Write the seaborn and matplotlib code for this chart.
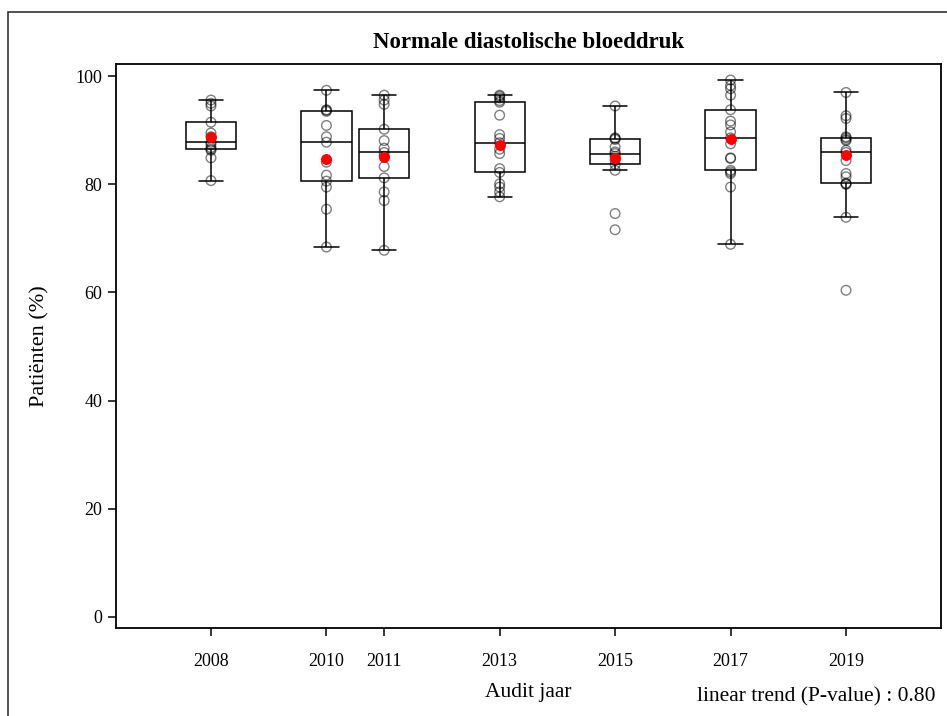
import numpy as np
import pandas as pd
import matplotlib
matplotlib.use("Agg")
import matplotlib.pyplot as plt
import seaborn as sns
from matplotlib.patches import Rectangle

# Audit years and per-practice percentages of patients with normal diastolic pressure
years = [2008, 2010, 2011, 2013, 2015, 2017, 2019]

pct_2008 = [80.7, 84.9, 86.3, 86.5, 86.8, 87.4, 87.8, 88.8, 89.5, 91.5, 94.5, 95.0, 95.6]
pct_2010 = [68.4, 75.4, 79.5, 80.6, 81.7, 84.1, 87.8, 88.8, 90.9, 93.5, 93.7, 93.8, 97.4]
pct_2011 = [67.8, 77.0, 78.6, 81.2, 83.3, 85.2, 85.9, 86.7, 88.1, 90.2, 94.8, 95.6, 96.5]
pct_2013 = [77.7, 78.6, 79.5, 80.1, 82.2, 82.9, 85.7, 86.5, 87.7, 88.5, 89.2, 92.8,
            95.2, 95.5, 96.0, 96.3, 96.5]
pct_2015 = [71.6, 74.6, 82.6, 83.7, 84.5, 85.2, 85.7, 86.0, 86.9, 88.3, 88.5, 88.6, 94.5]
pct_2017 = [68.9, 79.5, 82.0, 82.3, 82.6, 84.8, 84.9, 87.5, 88.6, 89.7, 91.0, 91.7,
            93.8, 96.5, 97.7, 98.3, 99.3]
pct_2019 = [60.4, 73.9, 80.0, 80.1, 80.2, 81.4, 82.0, 84.4, 85.9, 86.3, 88.1, 88.3,
            88.6, 88.8, 92.2, 92.7, 97.0]

# Overall (pooled) percentage per audit year
overall_pct = [88.8, 84.6, 85.1, 87.2, 84.9, 88.3, 85.4]

y_ticks = [0, 20, 40, 60, 80, 100]
title = "Normale diastolische bloeddruk"
x_label = "Audit jaar"
y_label = "Patiënten (%)"
trend_note = "linear trend (P-value) : 0.80"

per_year = [pct_2008, pct_2010, pct_2011, pct_2013, pct_2015, pct_2017, pct_2019]
df = pd.DataFrame(
    [(yr, v) for yr, vals in zip(years, per_year) for v in vals],
    columns=["jaar", "pct"],
)
means = pd.DataFrame({"jaar": years, "pct": overall_pct})

sns.set_style("ticks")
plt.rcParams["font.family"] = ["Liberation Serif", "DejaVu Serif"]
plt.rcParams["text.color"] = "black"

W, H = 947, 716
fig = plt.figure(figsize=(W / 100, H / 100), dpi=100)
ax = fig.add_axes([116 / W, 1 - 628 / H, (941 - 116) / W, (628 - 64) / H])

sns.boxplot(
    data=df, x="jaar", y="pct", orient="x", native_scale=True,
    width=0.87, color="white", linecolor="black", linewidth=1.1,
    saturation=1, showfliers=False, whis=1.5, capwidths=0.42, ax=ax,
)
sns.scatterplot(
    data=df, x="jaar", y="pct", marker="o", s=48,
    facecolors="none", edgecolor=(0, 0, 0, 0.5), linewidth=1.0,
    zorder=3, ax=ax, legend=False,
)
sns.scatterplot(
    data=means, x="jaar", y="pct", marker="o", s=62, color="red",
    linewidth=0, zorder=4, ax=ax, legend=False,
)

ax.set_xlim(2006.355, 2020.645)
ax.set_ylim(-2.09, 102.27)
ax.set_xticks(years)
ax.set_xticklabels([str(y) for y in years])
ax.set_yticks(y_ticks)
ax.set_yticklabels([str(t) for t in y_ticks])
ax.set_xlabel("")
ax.set_ylabel("")
ax.tick_params(direction="out", length=6, width=1.1, colors="black",
               labelsize=13, pad=4)
ax.tick_params(axis="x", pad=12)
for sp in ax.spines.values():
    sp.set_visible(True)
    sp.set_color("black")
    sp.set_linewidth(1.3)

fig.text(528.5 / W, 1 - 42 / H, title, ha="center", va="center",
         fontsize=16.5, fontweight="bold")
fig.text(40 / W, 1 - 346 / H, y_label, ha="center", va="center",
         rotation=90, fontsize=16)
fig.text(528.5 / W, 1 - 693 / H, x_label, ha="center", va="center", fontsize=15.5)
fig.text(935 / W, 1 - 697 / H, trend_note, ha="right", va="center", fontsize=15.5)

# outer frame around the graph area
fig.add_artist(Rectangle((8 / W, -0.2), 1.2, 1 - 12 / H + 0.2,
                         transform=fig.transFigure, fill=False,
                         edgecolor="#333333", linewidth=1.2))

fig.savefig("out.png", dpi=100)
